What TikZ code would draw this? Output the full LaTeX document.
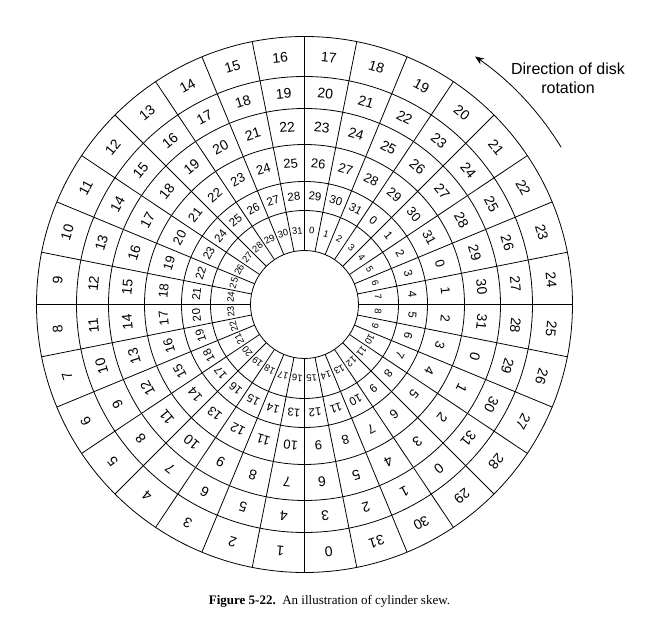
\documentclass[tikz,border=0pt]{standalone}
\usepackage{fontspec}
\setmainfont{Liberation Serif}
\newfontfamily\numfont{Liberation Sans}
\usetikzlibrary{arrows.meta}

\begin{document}
\begin{tikzpicture}[x=1pt,y=1pt,
    sect/.style={font=\numfont\fontsize{#1}{#1}\selectfont, inner sep=0pt}]
      \useasboundingbox (-304.5,-326.5) rectangle (352.5,304.5);
      \coordinate (center) at (0,0);

      %%%%%%%%%%%%%%%%%%%%%%%%%%%%%%%%%%%%%%%%%%%%%%%%%%%%%%%%%%%%%%
      % Tracks and sectors
      %%%%%%%%%%%%%%%%%%%%%%%%%%%%%%%%%%%%%%%%%%%%%%%%%%%%%%%%%%%%%%
      \foreach \r in {268,228,196,160,123,94,54}
        \draw [thick] (center) circle (\r);
      \foreach \i in {0,...,31}
        \draw [thick] (90+11.25*\i:54) -- (90+11.25*\i:268);

      \foreach \j/\r/\fs in {0/248/14,1/212/14,2/178/14,3/141.5/13,4/108.5/11.5,5/74/9.5}
        \foreach \k in {0,...,31}{
          \pgfmathtruncatemacro{\num}{mod(\k+3*\j,32)}
          \pgfmathsetmacro{\ang}{275.625-11.25*\k}
          \node [sect=\fs, rotate=\ang-90] (s\j-\k) at (\ang:\r) {\num};
        }

      %%%%%%%%%%%%%%%%%%%%%%%%%%%%%%%%%%%%%%%%%%%%%%%%%%%%%%%%%%%%%%
      % Rotation
      %%%%%%%%%%%%%%%%%%%%%%%%%%%%%%%%%%%%%%%%%%%%%%%%%%%%%%%%%%%%%%
      \coordinate (rot_start) at (31.5:301);
      \draw [thick, -{Stealth[length=9pt,width=7pt]}] (rot_start) arc[start angle=31.5, end angle=55.5, radius=301];
      \node [font=\numfont\fontsize{16}{19}\selectfont, align=center, anchor=north, inner sep=0pt] (rotation)
        at (263.5,242) {Direction of disk\\rotation};

      \node [font=\fontsize{13}{15}\selectfont] (caption) at (25,-297)
        {\textbf{Figure 5-22.}\ \ An illustration of cylinder skew.};
\end{tikzpicture}
\end{document}
